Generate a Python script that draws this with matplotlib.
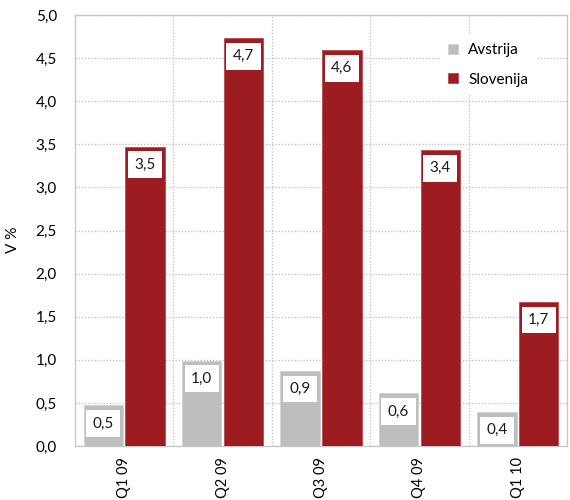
import matplotlib
matplotlib.use("Agg")
import matplotlib.pyplot as plt
import numpy as np

plt.rcParams['font.family'] = ['Lato', 'DejaVu Sans']

categories = ["Q1 09", "Q2 09", "Q3 09", "Q4 09", "Q1 10"]
avstrija = [0.47, 0.99, 0.87, 0.61, 0.39]
slovenija = [3.47, 4.73, 4.59, 3.43, 1.67]
avstrija_labels = ["0,5", "1,0", "0,9", "0,6", "0,4"]
slovenija_labels = ["3,5", "4,7", "4,6", "3,4", "1,7"]
yticks = [0.0, 0.5, 1.0, 1.5, 2.0, 2.5, 3.0, 3.5, 4.0, 4.5, 5.0]

GRAY = "#BEBEBE"
RED = "#9C1C22"

fig = plt.figure(figsize=(5.7, 5.0), dpi=100)
ax = fig.add_axes([75/570, 1-446/500, (567-75)/570, (446-15)/500])

x = np.arange(len(categories))
w = 0.40
off = 0.212
ax.bar(x - off, avstrija, w, color=GRAY, edgecolor="#D2D2D2", linewidth=0.6,
       label="Avstrija", zorder=3)
ax.bar(x + off, slovenija, w, color=RED, edgecolor="#B84A4F", linewidth=0.6,
       label="Slovenija", zorder=3)

for xs, vals, labs in [(x - off, avstrija, avstrija_labels), (x + off, slovenija, slovenija_labels)]:
    for xi, v, lab in zip(xs, vals, labs):
        ax.annotate(lab, (xi, v), xytext=(0, -18), textcoords="offset pixels",
                    ha="center", va="center", fontsize=11, color="#1a1a1a", zorder=5,
                    bbox=dict(boxstyle="square,pad=0.42", fc="white", ec="none"))

ax.set_xlim(-0.5, len(categories) - 0.5)
ax.set_ylim(0, 5.0)
ax.set_yticks(yticks)
ax.set_yticklabels([f"{t:.1f}".replace(".", ",") for t in yticks], fontsize=11)
ax.set_xticks(x)
ax.set_xticklabels(categories, rotation=90, fontsize=10.5)
ax.tick_params(axis='y', length=0, pad=13)
ax.tick_params(axis='x', length=0, pad=8)

ax.set_ylabel("V %", fontsize=11)
ax.yaxis.set_label_coords((20-75)/492, (446-240)/431)

ax.set_xticks(np.arange(0.5, len(categories) - 0.5, 1.0), minor=True)
ax.grid(False)
ax.yaxis.grid(True, color="#BDBDBD", linestyle=(0, (1, 1.5)), linewidth=0.9, zorder=0)
ax.xaxis.grid(True, which="minor", color="#BDBDBD", linestyle=(0, (1, 1.5)), linewidth=0.9, zorder=0)
ax.tick_params(which="minor", length=0)
ax.set_axisbelow(True)

for s in ax.spines.values():
    s.set_color("#C8C8C8")
    s.set_linewidth(1.0)

leg = ax.legend(loc="upper left", bbox_to_anchor=((440-75)/492, (446-35)/431), borderaxespad=0,
                frameon=True, fontsize=11,
                handlelength=0.6, handleheight=0.6, handletextpad=0.7, labelspacing=1.0,
                borderpad=0.55, fancybox=False)
leg.get_frame().set_facecolor("white")
leg.get_frame().set_edgecolor("none")
leg.get_frame().set_alpha(1)

fig.savefig("out.png", dpi=100)
